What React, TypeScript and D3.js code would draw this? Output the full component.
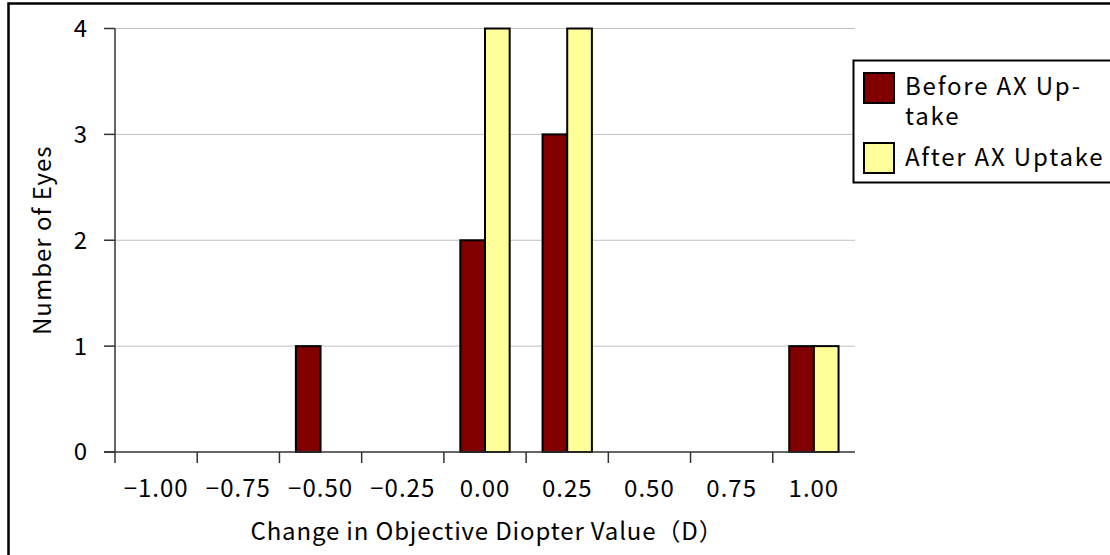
import React from "react";
import * as d3 from "d3";

const categories = ["−1.00", "−0.75", "−0.50", "−0.25", "0.00", "0.25", "0.50", "0.75", "1.00"];
const beforeValues = [0, 0, 1, 0, 2, 3, 0, 0, 1];
const afterValues = [0, 0, 0, 0, 4, 4, 0, 0, 1];
const yTicks = [0, 1, 2, 3, 4];
const seriesNames = ["Before AX Up-take", "After AX Uptake"];
const seriesColors = ["#800000", "#FFFF99"];

const FONT = "'Noto Sans CJK JP', 'Noto Sans', sans-serif";

export default function App() {
  const W = 1110, H = 555;
  const left = 115, right = 855, top = 28.5, bottom = 452;
  const x = d3.scaleBand<string>().domain(categories).range([left, right]).padding(0);
  const y = d3.scaleLinear().domain([0, 4]).range([bottom, top]);
  const bw = x.bandwidth() * 0.3;

  const bars: React.ReactElement[] = [];
  categories.forEach((c, i) => {
    const cx = (x(c) as number) + x.bandwidth() / 2;
    [beforeValues[i], afterValues[i]].forEach((v, s) => {
      if (v <= 0) return;
      const bx = s === 0 ? cx - bw : cx;
      bars.push(
        <rect key={`${i}-${s}`} x={bx} y={y(v)} width={bw} height={y(0) - y(v)}
          fill={seriesColors[s]} stroke="#000" strokeWidth={2} />
      );
    });
  });

  return (
    <svg width={W} height={H} style={{ position: "absolute", left: 0, top: 0, background: "#fff" }}
      fontFamily={FONT}>
      <rect x={8.5} y={3.5} width={1200} height={700} fill="#fff" stroke="#000" strokeWidth={2.5} />
      {yTicks.filter(t => t > 0).map(t => (
        <line key={`g${t}`} x1={left} x2={right} y1={y(t)} y2={y(t)} stroke="#c0c0c0" strokeWidth={1} />
      ))}
      {bars}
      {/* y axis */}
      <line x1={left} x2={left} y1={top} y2={bottom} stroke="#333" strokeWidth={1.5} />
      {yTicks.map(t => (
        <g key={`yt${t}`}>
          <line x1={left - 11} x2={left} y1={y(t)} y2={y(t)} stroke="#333" strokeWidth={1.5} />
          <text x={87} y={y(t)} dy="0.35em" textAnchor="end" fontSize={24} fill="#000">{t}</text>
        </g>
      ))}
      {/* x axis */}
      <line x1={left - 11} x2={right} y1={bottom} y2={bottom} stroke="#333" strokeWidth={1.5} />
      {categories.map((c) => (
        <line key={`xt${c}`} x1={x(c) as number} x2={x(c) as number} y1={bottom} y2={bottom + 11}
          stroke="#333" strokeWidth={1.5} />
      ))}
      {categories.map((c) => (
        <text key={`xl${c}`} x={(x(c) as number) + x.bandwidth() / 2} y={497} textAnchor="middle"
          fontSize={24} letterSpacing={1} fill="#000">{c}</text>
      ))}
      <text x={(left + right) / 2 + 2} y={540} textAnchor="middle" fontSize={24} letterSpacing={0.85} fill="#000">
        Change in Objective Diopter Value（D）
      </text>
      <text transform={`translate(51,${(top + bottom) / 2}) rotate(-90)`} textAnchor="middle"
        fontSize={24} letterSpacing={1} fill="#000">Number of Eyes</text>
      {/* legend */}
      <rect x={853.5} y={60.5} width={400} height={122} fill="#fff" stroke="#000" strokeWidth={2} />
      <rect x={864} y={73} width={30} height={30} fill={seriesColors[0]} stroke="#000" strokeWidth={2} />
      <text x={905} y={95} fontSize={24} letterSpacing={1.8} fill="#000">Before AX Up-</text>
      <text x={905} y={125} fontSize={24} letterSpacing={1.8} fill="#000">take</text>
      <rect x={864} y={143} width={30} height={30} fill={seriesColors[1]} stroke="#000" strokeWidth={2} />
      <text x={905} y={166} fontSize={24} letterSpacing={1.8} fill="#000">{seriesNames[1]}</text>
    </svg>
  );
}
